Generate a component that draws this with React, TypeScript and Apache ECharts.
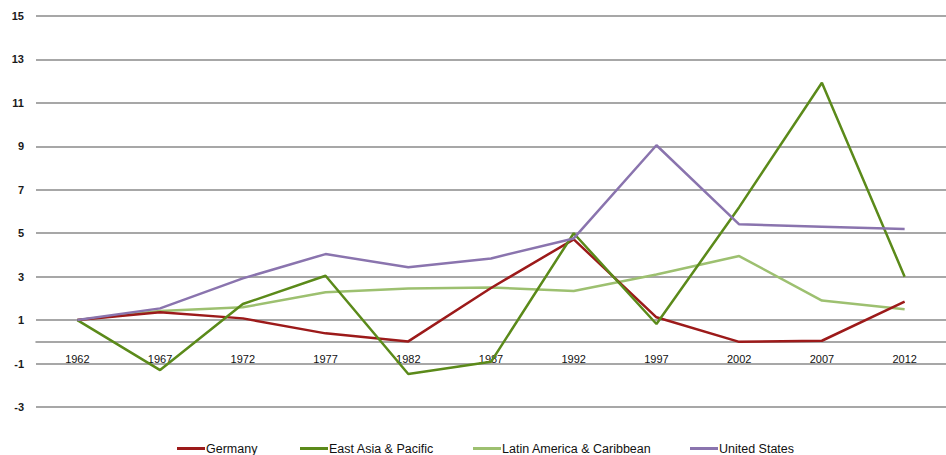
import React, { useEffect, useRef } from "react";
import * as echarts from "echarts";

const years = ["1962", "1967", "1972", "1977", "1982", "1987", "1992", "1997", "2002", "2007", "2012"];
const germany = [1.0, 1.36, 1.08, 0.39, 0.02, 2.48, 4.72, 1.13, 0.0, 0.05, 1.85];
const eastAsia = [1.0, -1.3, 1.74, 3.04, -1.48, -0.92, 5.0, 0.82, 6.2, 11.93, 3.0];
const latinAmerica = [1.0, 1.42, 1.59, 2.28, 2.46, 2.5, 2.34, 3.1, 3.95, 1.9, 1.5];
const unitedStates = [1.0, 1.54, 2.92, 4.04, 3.43, 3.84, 4.76, 9.05, 5.41, 5.3, 5.19];

const seriesNames = ["Germany", "East Asia & Pacific", "Latin America & Caribbean", "United States"];
const seriesColors = ["#9C1A1A", "#5B8A1A", "#9DC070", "#8A74AE"];
const legendLefts = [177, 300, 473, 690];

const Y_MIN = -3;
const Y_MAX = 15;

export default function App() {
  const ref = useRef<HTMLDivElement>(null);
  useEffect(() => {
    if (!ref.current) return;
    const chart = echarts.init(ref.current, null, { renderer: "svg" });
    const values = [germany, eastAsia, latinAmerica, unitedStates];
    const gridTop = 16;
    const gridBottom = 48;
    const gridH = 455 - gridTop - gridBottom;
    const zeroOffset = -(gridH * (0 - Y_MIN)) / (Y_MAX - Y_MIN);
    chart.setOption({
      animation: false,
      backgroundColor: "#ffffff",
      textStyle: { fontFamily: "Liberation Sans" },
      grid: { left: 36, top: gridTop, width: 918, bottom: gridBottom, containLabel: false },
      legend: seriesNames.map((name, i) => ({
        left: legendLefts[i],
        top: 442,
        padding: 0,
        itemWidth: 28,
        itemHeight: 3,
        icon: "rect",
        textStyle: { fontSize: 12.5, color: "#111", padding: [0, 0, 0, -4] },
        data: [name],
      })),
      xAxis: {
        type: "category",
        data: years,
        boundaryGap: true,
        offset: zeroOffset,
        axisLine: { show: true, onZero: false, lineStyle: { color: "#8a8a8a", width: 1.5 } },
        axisTick: { show: false },
        axisLabel: { color: "#111", fontSize: 11, margin: 12 },
        splitLine: { show: false },
      },
      yAxis: {
        type: "value",
        min: Y_MIN,
        max: Y_MAX,
        interval: 2,
        axisLine: { show: false },
        axisTick: { show: false },
        axisLabel: { color: "#1a1a1a", fontSize: 11, fontWeight: "bold", margin: 12 },
        splitLine: { show: true, lineStyle: { color: "#8a8a8a", width: 1.5 } },
      },
      series: seriesNames.map((name, i) => ({
        name,
        type: "line",
        data: values[i],
        showSymbol: false,
        symbol: "none",
        color: seriesColors[i],
        lineStyle: { color: seriesColors[i], width: 2.5 },
        z: i === 2 ? 2 : 3 + i,
      })),
    });
    return () => chart.dispose();
  }, []);
  return <div ref={ref} style={{ width: 946, height: 455, position: "absolute", left: 0, top: 0 }} />;
}
